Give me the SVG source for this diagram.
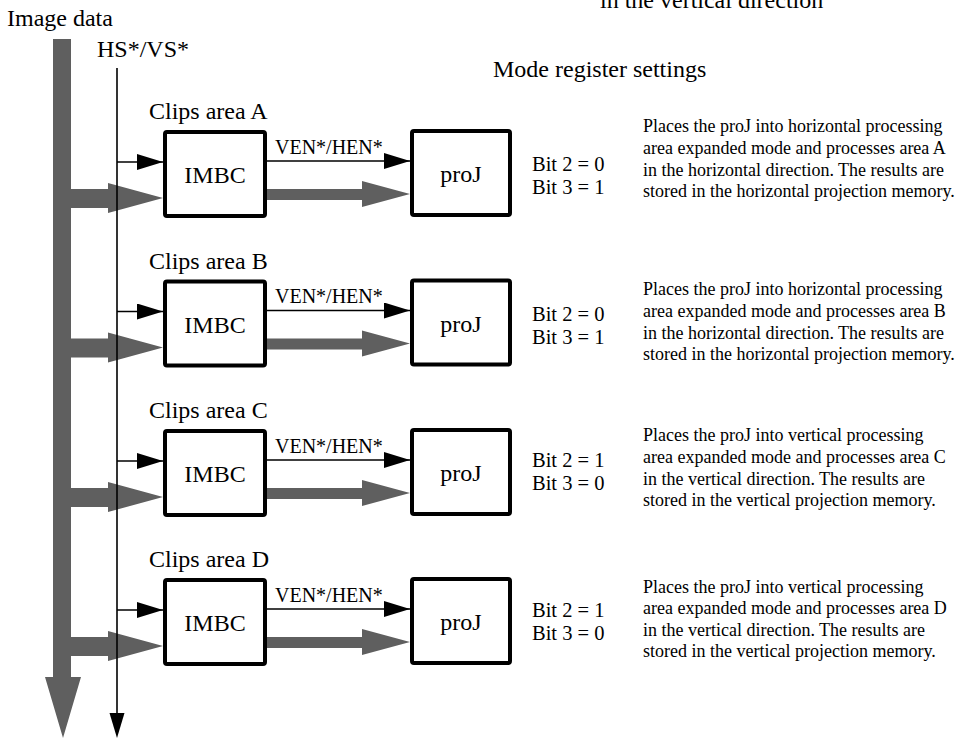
<svg xmlns="http://www.w3.org/2000/svg" width="970" height="739" viewBox="0 0 970 739">
<style>
text{font-family:"Liberation Serif","Times New Roman",serif;fill:#000}
.lg{font-size:24px}
.bit{font-size:20.5px}
.md{font-size:20px}
.sm{font-size:18px}
.box{fill:#fff;stroke:#000;stroke-width:4}
.thin{stroke:#000;stroke-width:1.6;fill:none}
.gray{fill:#5f5f5f}
.head{fill:#000}
</style>
<defs>
<marker id="ah" markerUnits="userSpaceOnUse" markerWidth="28" markerHeight="16" refX="26" refY="8" orient="auto">
<path d="M0,0 L26,8 L0,16 Z" fill="#000"/>
</marker>
</defs>
<rect width="970" height="739" fill="#fff"/>

<text class="lg" x="600" y="8">in the vertical direction</text>
<text class="lg" x="7" y="26">Image data</text>
<text class="lg" x="97" y="57">HS*/VS*</text>
<text class="lg" x="493" y="77">Mode register settings</text>

<g id="connectors">
<polygon class="gray" points="53,39 71,39 71,677 81,677 63,738 45,677 53,677"/>
<g transform="translate(0,130)">
<polygon class="gray" points="71,59 108,59 108,53 163,68 108,83 108,78 71,78"/>
<polygon class="gray" points="267,59 362,59 362,51 410,64 362,77 362,70 267,70"/>
<line class="thin" x1="117" y1="32" x2="163" y2="32" marker-end="url(#ah)"/>
<line class="thin" x1="267" y1="31" x2="410" y2="31" marker-end="url(#ah)"/>
</g>
<g transform="translate(0,279.5)">
<polygon class="gray" points="71,59 108,59 108,53 163,68 108,83 108,78 71,78"/>
<polygon class="gray" points="267,59 362,59 362,51 410,64 362,77 362,70 267,70"/>
<line class="thin" x1="117" y1="32" x2="163" y2="32" marker-end="url(#ah)"/>
<line class="thin" x1="267" y1="31" x2="410" y2="31" marker-end="url(#ah)"/>
</g>
<g transform="translate(0,429)">
<polygon class="gray" points="71,59 108,59 108,53 163,68 108,83 108,78 71,78"/>
<polygon class="gray" points="267,59 362,59 362,51 410,64 362,77 362,70 267,70"/>
<line class="thin" x1="117" y1="32" x2="163" y2="32" marker-end="url(#ah)"/>
<line class="thin" x1="267" y1="31" x2="410" y2="31" marker-end="url(#ah)"/>
</g>
<g transform="translate(0,578)">
<polygon class="gray" points="71,59 108,59 108,53 163,68 108,83 108,78 71,78"/>
<polygon class="gray" points="267,59 362,59 362,51 410,64 362,77 362,70 267,70"/>
<line class="thin" x1="117" y1="32" x2="163" y2="32" marker-end="url(#ah)"/>
<line class="thin" x1="267" y1="31" x2="410" y2="31" marker-end="url(#ah)"/>
</g>
<line class="thin" x1="117" y1="68" x2="117" y2="714"/>
<polygon class="head" points="109.5,713 124.5,713 117,738"/>
</g>

<g id="row-a" transform="translate(0,130)">
<text class="lg" x="149" y="-11">Clips area A</text>
<g id="imbc-a"><rect class="box" x="165" y="2" width="100" height="84" rx="2"/><text class="lg" x="215" y="53" text-anchor="middle">IMBC</text></g>
<text class="md" x="275" y="23.5">VEN*/HEN*</text>
<g id="proj-a"><rect class="box" x="412" y="1" width="98" height="84" rx="2"/><text class="lg" x="461" y="52" text-anchor="middle">proJ</text></g>
<text class="bit" x="532" y="40.5">Bit 2 = 0</text>
<text class="bit" x="532" y="63.5">Bit 3 = 1</text>
<text class="sm" x="643" y="2">Places the proJ into horizontal processing</text>
<text class="sm" x="643" y="24">area expanded mode and processes area A</text>
<text class="sm" x="643" y="45.5">in the horizontal direction. The results are</text>
<text class="sm" x="643" y="67">stored in the horizontal projection memory.</text>
</g>

<g id="row-b" transform="translate(0,279.5)">
<text class="lg" x="149" y="-11">Clips area B</text>
<g id="imbc-b"><rect class="box" x="165" y="2" width="100" height="84" rx="2"/><text class="lg" x="215" y="53" text-anchor="middle">IMBC</text></g>
<text class="md" x="275" y="23.5">VEN*/HEN*</text>
<g id="proj-b"><rect class="box" x="412" y="1" width="98" height="84" rx="2"/><text class="lg" x="461" y="52" text-anchor="middle">proJ</text></g>
<text class="bit" x="532" y="41">Bit 2 = 0</text>
<text class="bit" x="532" y="64">Bit 3 = 1</text>
<text class="sm" x="643" y="15.5">Places the proJ into horizontal processing</text>
<text class="sm" x="643" y="37.5">area expanded mode and processes area B</text>
<text class="sm" x="643" y="59.5">in the horizontal direction. The results are</text>
<text class="sm" x="643" y="80.5">stored in the horizontal projection memory.</text>
</g>

<g id="row-c" transform="translate(0,429)">
<text class="lg" x="149" y="-11">Clips area C</text>
<g id="imbc-c"><rect class="box" x="165" y="2" width="100" height="84" rx="2"/><text class="lg" x="215" y="53" text-anchor="middle">IMBC</text></g>
<text class="md" x="275" y="23.5">VEN*/HEN*</text>
<g id="proj-c"><rect class="box" x="412" y="1" width="98" height="84" rx="2"/><text class="lg" x="461" y="52" text-anchor="middle">proJ</text></g>
<text class="bit" x="532" y="37.5">Bit 2 = 1</text>
<text class="bit" x="532" y="60.5">Bit 3 = 0</text>
<text class="sm" x="643" y="12">Places the proJ into vertical processing</text>
<text class="sm" x="643" y="34">area expanded mode and processes area C</text>
<text class="sm" x="643" y="56">in the vertical direction. The results are</text>
<text class="sm" x="643" y="77">stored in the vertical projection memory.</text>
</g>

<g id="row-d" transform="translate(0,578)">
<text class="lg" x="149" y="-11">Clips area D</text>
<g id="imbc-d"><rect class="box" x="165" y="2" width="100" height="84" rx="2"/><text class="lg" x="215" y="53" text-anchor="middle">IMBC</text></g>
<text class="md" x="275" y="23.5">VEN*/HEN*</text>
<g id="proj-d"><rect class="box" x="412" y="1" width="98" height="84" rx="2"/><text class="lg" x="461" y="52" text-anchor="middle">proJ</text></g>
<text class="bit" x="532" y="38.5">Bit 2 = 1</text>
<text class="bit" x="532" y="61.5">Bit 3 = 0</text>
<text class="sm" x="643" y="15">Places the proJ into vertical processing</text>
<text class="sm" x="643" y="36">area expanded mode and processes area D</text>
<text class="sm" x="643" y="58">in the vertical direction. The results are</text>
<text class="sm" x="643" y="79">stored in the vertical projection memory.</text>
</g>
</svg>
